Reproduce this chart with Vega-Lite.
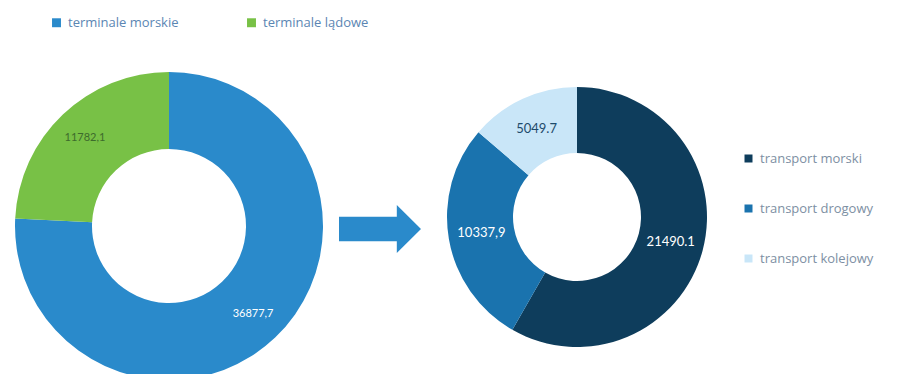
{
  "$schema": "https://vega.github.io/schema/vega-lite/v6.json",
  "autosize": {"type": "pad"},
  "padding": {"left": 0, "top": 16, "right": 0, "bottom": 0},
  "background": "white",
  "config": {"view": {"stroke": null}, "font": "Open Sans"},
  "spacing": 0,
  "bounds": "flush",
  "resolve": {"scale": {"color": "independent"}, "legend": {"color": "independent"}},
  "hconcat": [
    {
      "width": 338,
      "height": 308,
      "data": {"values": [
        {"kategoria": "terminale morskie", "wartosc": 36877.7, "etykieta": "36877,7", "kolejnosc": 1},
        {"kategoria": "terminale lądowe", "wartosc": 11782.1, "etykieta": "11782,1", "kolejnosc": 2}
      ]},
      "encoding": {
        "theta": {"field": "wartosc", "type": "quantitative", "stack": true},
        "order": {"field": "kolejnosc", "type": "quantitative"}
      },
      "layer": [
        {
          "mark": {"type": "arc", "outerRadius": 154, "innerRadius": 77},
          "encoding": {
            "color": {
              "field": "kategoria", "type": "nominal",
              "scale": {"domain": ["terminale morskie", "terminale lądowe"], "range": ["#2a8acb", "#78c146"]},
              "legend": {"orient": "none", "legendX": 50, "legendY": -56, "direction": "horizontal", "columns": 2, "title": null, "symbolType": "square", "symbolSize": 80, "symbolStrokeWidth": 0, "labelFontSize": 13, "labelColor": "#5b86b3", "columnPadding": 66, "labelOffset": 5}
            }
          }
        },
        {
          "mark": {"type": "text", "radius": 122, "fontSize": 11, "font": "Lato"},
          "encoding": {
            "text": {"field": "etykieta", "type": "nominal"},
            "color": {"condition": {"test": "datum.kolejnosc == 2", "value": "#3d6b2c"}, "value": "#ffffff"}
          }
        }
      ]
    },
    {
      "width": 84,
      "height": 314,
      "data": {"values": [{"element": "strzałka"}]},
      "mark": {"type": "point", "shape": "M-1,-0.3L0.41,-0.3L0.41,-0.585L1,0L0.41,0.585L0.41,0.3L-1,0.3Z", "size": 6724, "filled": true, "fill": "#2a8acb", "opacity": 1, "strokeWidth": 0},
      "encoding": {}
    },
    {
      "width": 310,
      "height": 290,
      "data": {"values": [
        {"rodzaj": "transport morski", "wartosc": 21490.1, "etykieta": "21490.1", "kolejnosc": 1},
        {"rodzaj": "transport drogowy", "wartosc": 10337.9, "etykieta": "10337,9", "kolejnosc": 2},
        {"rodzaj": "transport kolejowy", "wartosc": 5049.7, "etykieta": "5049.7", "kolejnosc": 3}
      ]},
      "encoding": {
        "theta": {"field": "wartosc", "type": "quantitative", "stack": true},
        "order": {"field": "kolejnosc", "type": "quantitative"}
      },
      "layer": [
        {
          "mark": {"type": "arc", "outerRadius": 130, "innerRadius": 64},
          "encoding": {
            "color": {
              "field": "rodzaj", "type": "nominal",
              "scale": {"domain": ["transport morski", "transport drogowy", "transport kolejowy"], "range": ["#0e3d5c", "#1a73ae", "#c9e6f8"]},
              "legend": {"orient": "none", "legendX": 320, "legendY": 80, "direction": "vertical", "title": null, "symbolType": "square", "symbolSize": 64, "symbolStrokeWidth": 0, "labelFontSize": 13, "labelColor": "#7d8fa3", "rowPadding": 36, "labelOffset": 5}
            }
          }
        },
        {
          "mark": {"type": "text", "radius": 97, "fontSize": 13, "font": "Lato"},
          "encoding": {
            "text": {"field": "etykieta", "type": "nominal"},
            "color": {"condition": {"test": "datum.kolejnosc == 3", "value": "#1d4a6b"}, "value": "#ffffff"}
          }
        }
      ]
    }
  ]
}
